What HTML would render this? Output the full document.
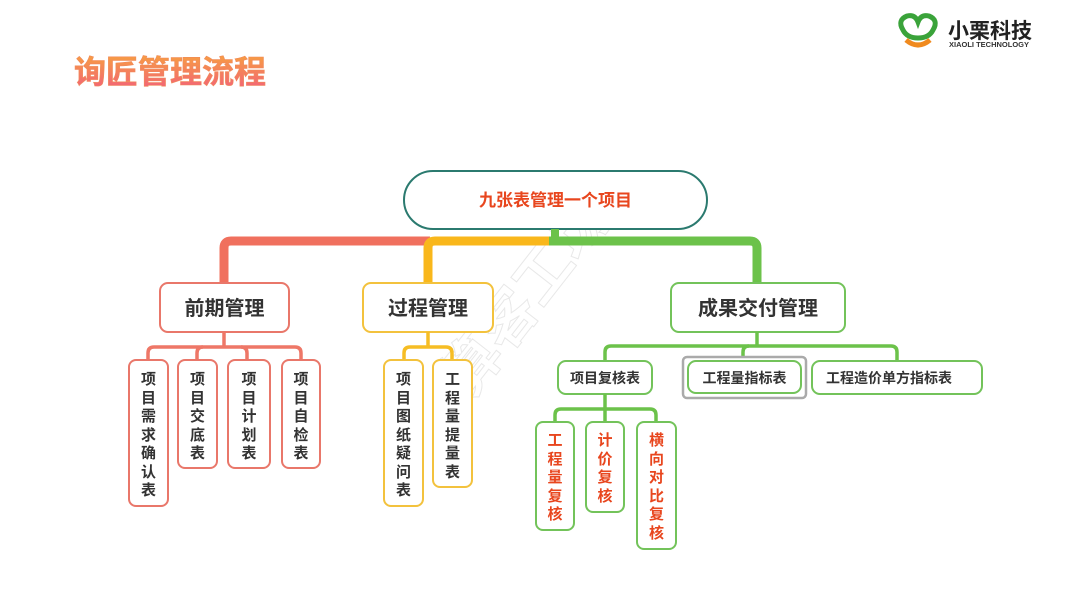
<!DOCTYPE html>
<html><head><meta charset="utf-8"><style>
html,body{margin:0;padding:0;background:#fff;}
body{width:1080px;height:608px;overflow:hidden;position:relative;font-family:"Liberation Sans","Noto Sans CJK SC",sans-serif;}
svg text{font-family:"Liberation Sans","Noto Sans CJK SC",sans-serif;font-weight:bold;}
</style></head><body>
<svg width="1080" height="608" viewBox="0 0 1080 608" xmlns="http://www.w3.org/2000/svg">
<defs>
<linearGradient id="tg" x1="0" y1="0" x2="0" y2="1">
<stop offset="0" stop-color="#f7a040"/><stop offset="1" stop-color="#f2607a"/>
</linearGradient>
</defs>
<!-- title -->
<text x="74" y="83" font-size="32" fill="url(#tg)" stroke="#f08a5a" stroke-width="0.6">询匠管理流程</text>
<!-- logo -->
<g>
<path d="M903 30 q-6 -10 4 -14 q8 -2 11 6 q3 -8 11 -6 q10 4 4 14 q-4 8 -15 8 q-11 0 -15 -8z" fill="none" stroke="#3aa33a" stroke-width="5"/>
<path d="M906 40 q12 10 24 0" fill="none" stroke="#f08a1e" stroke-width="5"/>
<text x="948" y="38" font-size="21" fill="#222">小栗科技</text>
<text x="949" y="47" font-size="7.5" fill="#333">XIAOLI TECHNOLOGY</text>
</g>
<!-- watermark -->
<text x="470" y="400" font-size="58" fill="none" stroke="#e8e8e8" stroke-width="1" font-weight="normal" transform="rotate(-52 470 400)">算客工场</text>
<!-- root -->
<rect x="404" y="171" width="303" height="58" rx="29" fill="#fff" stroke="#2b7a6f" stroke-width="2"/>
<text x="555.5" y="206" font-size="17" fill="#e8461e" text-anchor="middle">九张表管理一个项目</text>
<!-- main bar -->
<rect x="551" y="229" width="8" height="12" fill="#6cc24a"/>
<path d="M224 283 V248 q0 -7 7 -7 H430" fill="none" stroke="#f0705e" stroke-width="9"/>
<path d="M428 283 V248 q0 -7 7 -7 H551" fill="none" stroke="#f9b71b" stroke-width="9"/>
<path d="M549 241 H750 q7 0 7 7 V283" fill="none" stroke="#6cc24a" stroke-width="9"/>
<!-- level 1 boxes -->
<rect x="160" y="283" width="129" height="49" rx="8" fill="#fff" stroke="#e9776a" stroke-width="2"/>
<text x="224.5" y="315" font-size="20" fill="#333" text-anchor="middle">前期管理</text>
<rect x="363" y="283" width="130" height="49" rx="8" fill="#fff" stroke="#f3c23d" stroke-width="2"/>
<text x="428" y="315" font-size="20" fill="#333" text-anchor="middle">过程管理</text>
<rect x="671" y="283" width="174" height="49" rx="8" fill="#fff" stroke="#73c35a" stroke-width="2"/>
<text x="758" y="315" font-size="20" fill="#333" text-anchor="middle">成果交付管理</text>

<!-- 前期 children connectors -->
<g fill="none" stroke="#ee7767" stroke-width="3.5">
<path d="M224 332 V347"/>
<path d="M148 360 V353 q0 -6 6 -6 H295 q6 0 6 6 V360"/>
<path d="M197 360 V353 q0 -6 6 -6"/>
<path d="M241 347 q6 0 6 6 V360"/>
</g>
<g fill="#fff" stroke="#e9776a" stroke-width="2">
<rect x="129" y="360" width="39" height="146" rx="7"/>
<rect x="178" y="360" width="39" height="108" rx="7"/>
<rect x="228" y="360" width="42" height="108" rx="7"/>
<rect x="282" y="360" width="38" height="108" rx="7"/>
</g>
<g font-size="15" fill="#333" text-anchor="middle">
<text x="148.5" y="384">项</text><text x="148.5" y="403">目</text><text x="148.5" y="421">需</text><text x="148.5" y="440">求</text><text x="148.5" y="458">确</text><text x="148.5" y="477">认</text><text x="148.5" y="495">表</text>
<text x="197.5" y="384">项</text><text x="197.5" y="403">目</text><text x="197.5" y="421">交</text><text x="197.5" y="440">底</text><text x="197.5" y="458">表</text>
<text x="249" y="384">项</text><text x="249" y="403">目</text><text x="249" y="421">计</text><text x="249" y="440">划</text><text x="249" y="458">表</text>
<text x="301" y="384">项</text><text x="301" y="403">目</text><text x="301" y="421">自</text><text x="301" y="440">检</text><text x="301" y="458">表</text>
</g>

<!-- 过程 children -->
<g fill="none" stroke="#f6bd24" stroke-width="3.5">
<path d="M428 332 V347"/>
<path d="M404 360 V353 q0 -6 6 -6 H446 q6 0 6 6 V360"/>
</g>
<g fill="#fff" stroke="#f3c23d" stroke-width="2">
<rect x="384" y="360" width="39" height="146" rx="7"/>
<rect x="433" y="360" width="39" height="127" rx="7"/>
</g>
<g font-size="15" fill="#333" text-anchor="middle">
<text x="403.5" y="384">项</text><text x="403.5" y="403">目</text><text x="403.5" y="421">图</text><text x="403.5" y="440">纸</text><text x="403.5" y="458">疑</text><text x="403.5" y="477">问</text><text x="403.5" y="495">表</text>
<text x="452.5" y="384">工</text><text x="452.5" y="403">程</text><text x="452.5" y="421">量</text><text x="452.5" y="440">提</text><text x="452.5" y="458">量</text><text x="452.5" y="477">表</text>
</g>

<!-- 成果 children -->
<g fill="none" stroke="#6cc24a" stroke-width="3.5">
<path d="M757 332 V346"/>
<path d="M605 361 V352 q0 -6 6 -6 H891 q6 0 6 6 V361"/>
<path d="M743 361 V352 q0 -6 6 -6"/>
</g>
<rect x="683" y="357" width="123" height="41" rx="4" fill="#fff" stroke="#aaa" stroke-width="2.5"/>
<g fill="#fff" stroke="#73c35a" stroke-width="2">
<rect x="558" y="361" width="94" height="33" rx="8"/>
<rect x="688" y="361" width="113" height="32" rx="8"/>
<rect x="812" y="361" width="170" height="33" rx="8"/>
</g>
<g font-size="14" fill="#333" text-anchor="middle">
<text x="605" y="383">项目复核表</text>
<text x="744.5" y="383">工程量指标表</text>
<text x="889" y="383">工程造价单方指标表</text>
</g>
<g fill="none" stroke="#6cc24a" stroke-width="3.5">
<path d="M605 394 V409"/>
<path d="M555 422 V415 q0 -6 6 -6 H650 q6 0 6 6 V422"/>
<path d="M605 409 V422"/>
</g>
<g fill="#fff" stroke="#73c35a" stroke-width="2">
<rect x="536" y="422" width="38" height="108" rx="7"/>
<rect x="586" y="422" width="38" height="90" rx="7"/>
<rect x="637" y="422" width="39" height="127" rx="7"/>
</g>
<g font-size="15" fill="#e8461e" text-anchor="middle">
<text x="555" y="445">工</text><text x="555" y="464">程</text><text x="555" y="482">量</text><text x="555" y="501">复</text><text x="555" y="519">核</text>
<text x="605" y="445">计</text><text x="605" y="464">价</text><text x="605" y="482">复</text><text x="605" y="501">核</text>
<text x="656.5" y="445">横</text><text x="656.5" y="464">向</text><text x="656.5" y="482">对</text><text x="656.5" y="501">比</text><text x="656.5" y="519">复</text><text x="656.5" y="538">核</text>
</g>
</svg>
</body></html>
